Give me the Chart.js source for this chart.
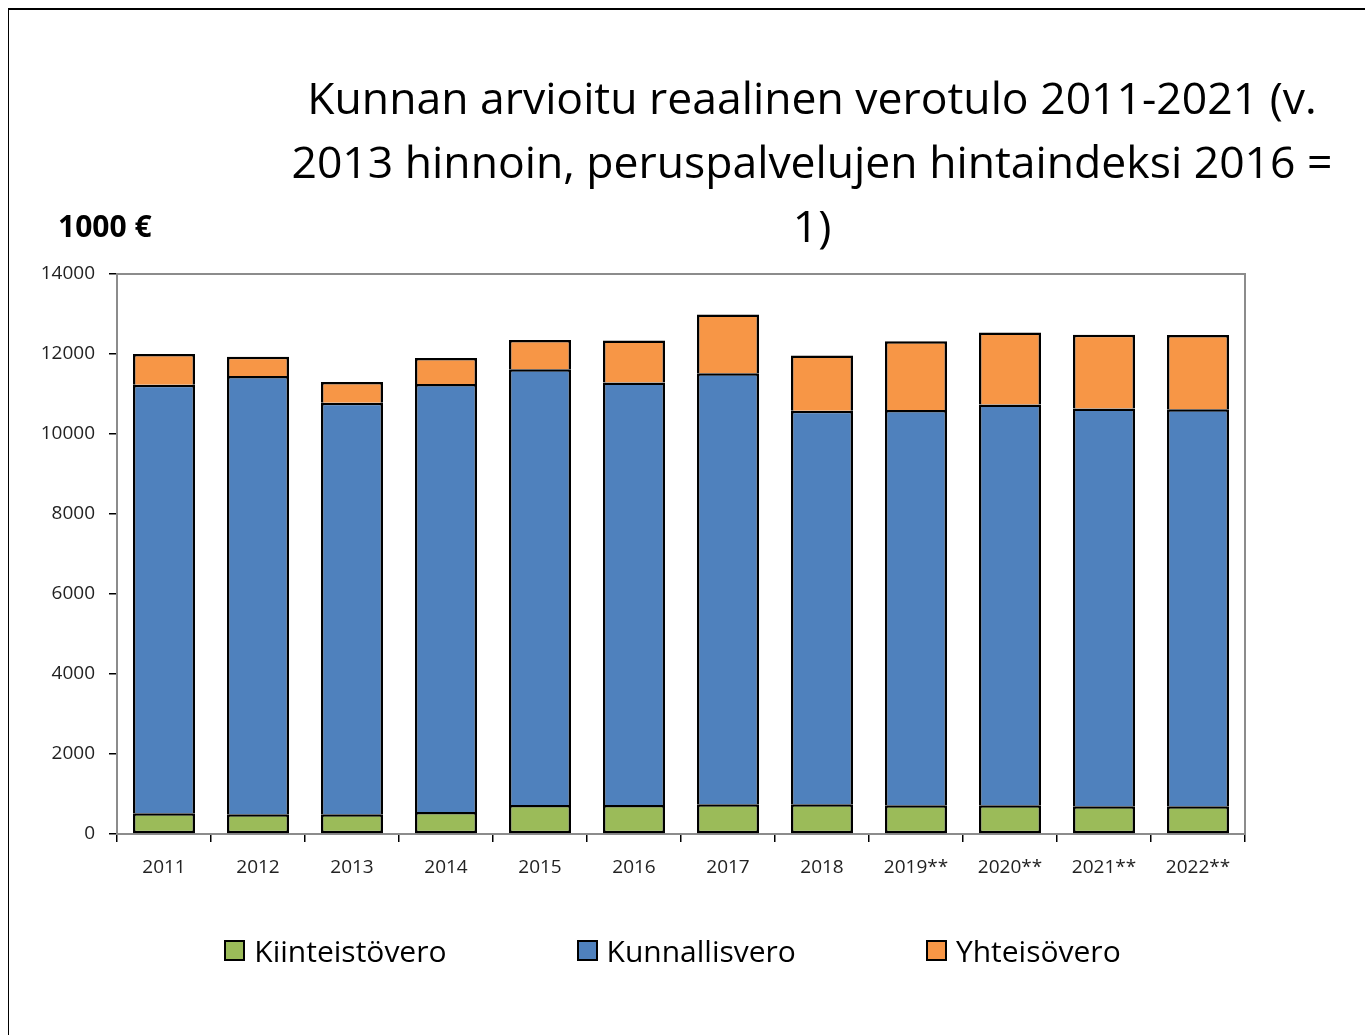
<!DOCTYPE html>
<html lang="fi">
<head>
<meta charset="UTF-8">
<title>Kunnan arvioitu reaalinen verotulo</title>
<script src="https://cdn.jsdelivr.net/npm/chart.js"></script>
<style>
  html, body { margin: 0; padding: 0; background: #fff; }
  body { width: 1365px; height: 1035px; position: relative; overflow: hidden; font-family: "Open Sans", "Noto Sans", sans-serif; }
  #frame { position: absolute; left: 8px; top: 8px; width: 1400px; height: 1100px; border-left: 1px solid #000; border-top: 2px solid #000; }
  #chartBox { position: absolute; left: 0; top: 0; width: 1365px; height: 1035px; }
  #title { position: absolute; left: 262px; width: 1100px; top: 65px; text-align: center; font-size: 44.5px; line-height: 64px; color: #000; }
  #unit { position: absolute; left: 58px; top: 205px; font-size: 30px; font-weight: bold; color: #000; }
  #legend { position: absolute; left: 0; width: 1345px; top: 930px; display: flex; justify-content: center; gap: 130px; font-size: 30px; color: #000; }
  #legend .item { display: flex; align-items: center; }
  #legend .box { width: 17px; height: 17px; border: 2px solid #000; margin-right: 9px; }
</style>
</head>
<body>
<div id="frame"></div>
<div id="chartBox"><canvas id="taxChart" width="1365" height="1035"></canvas></div>
<div id="title">Kunnan arvioitu reaalinen verotulo 2011-2021 (v.<br>2013 hinnoin, peruspalvelujen hintaindeksi 2016 =<br>1)</div>
<div id="unit">1000 €</div>
<div id="legend"></div>
<script>
const years = ['2011', '2012', '2013', '2014', '2015', '2016', '2017', '2018', '2019**', '2020**', '2021**', '2022**'];
const kiinteistovero = [517, 492, 492, 550, 725, 725, 742, 742, 717, 717, 692, 692];
const kunnallisvero = [10716, 10958, 10291, 10700, 10892, 10565, 10775, 9841, 9883, 10023, 9948, 9925];
const yhteisovero = [767, 483, 517, 650, 733, 1050, 1473, 1377, 1716, 1800, 1843, 1858];
const yTicks = { min: 0, max: 14000, step: 2000 };

// gray frame round the plot area (top and right show gray, axes drawn black over it)
const plotFrame = {
    id: 'plotFrame',
    beforeDatasetsDraw(chart) {
        const a = chart.chartArea;
        const ctx = chart.ctx;
        ctx.save();
        ctx.strokeStyle = '#8c8c8c';
        ctx.lineWidth = 2;
        ctx.strokeRect(a.left, a.top, a.right - a.left, a.bottom - a.top);
        ctx.restore();
    }
};

const chart = new Chart(document.getElementById('taxChart').getContext('2d'), {
    type: 'bar',
    data: {
        labels: years,
        datasets: [
            { label: 'Kiinteistövero', data: kiinteistovero, backgroundColor: '#9BBB59', borderColor: '#000', borderWidth: 2.5, borderSkipped: false },
            { label: 'Kunnallisvero', data: kunnallisvero, backgroundColor: '#4F81BD', borderColor: '#000', borderWidth: 2.5, borderSkipped: 'bottom' },
            { label: 'Yhteisövero', data: yhteisovero, backgroundColor: '#F79646', borderColor: '#000', borderWidth: 2.5, borderSkipped: 'bottom' }
        ]
    },
    options: {
        responsive: false,
        animation: false,
        layout: { padding: { top: 274, right: 120, bottom: 111, left: 0 } },
        datasets: { bar: { barPercentage: 0.66, categoryPercentage: 1 } },
        plugins: {
            legend: { display: false },
            tooltip: { enabled: false }
        },
        scales: {
            x: {
                stacked: true,
                afterFit(scale) { scale.height = 90; },
                grid: { display: true, offset: true, drawOnChartArea: false, drawTicks: true, tickLength: 8, color: '#000', lineWidth: 1.5 },
                border: { display: true, color: '#000', width: 2 },
                ticks: { color: '#222', font: { family: 'Open Sans', size: 19 }, padding: 14, maxRotation: 0 }
            },
            y: {
                stacked: true,
                min: yTicks.min,
                max: yTicks.max,
                afterFit(scale) { scale.width = 117; },
                grid: { display: true, drawOnChartArea: false, drawTicks: true, tickLength: 8, color: '#000', lineWidth: 1.5 },
                border: { display: true, color: '#000', width: 2 },
                ticks: {
                    stepSize: yTicks.step,
                    color: '#222',
                    font: { family: 'Open Sans', size: 19 },
                    padding: 14,
                    callback: v => String(v)
                }
            }
        }
    },
    plugins: [plotFrame]
});

// legend built from the chart's datasets
const legendEl = document.getElementById('legend');
chart.data.datasets.forEach(ds => {
    const item = document.createElement('div');
    item.className = 'item';
    const box = document.createElement('span');
    box.className = 'box';
    box.style.background = ds.backgroundColor;
    const txt = document.createElement('span');
    txt.textContent = ds.label;
    item.appendChild(box);
    item.appendChild(txt);
    legendEl.appendChild(item);
});
</script>
</body>
</html>
